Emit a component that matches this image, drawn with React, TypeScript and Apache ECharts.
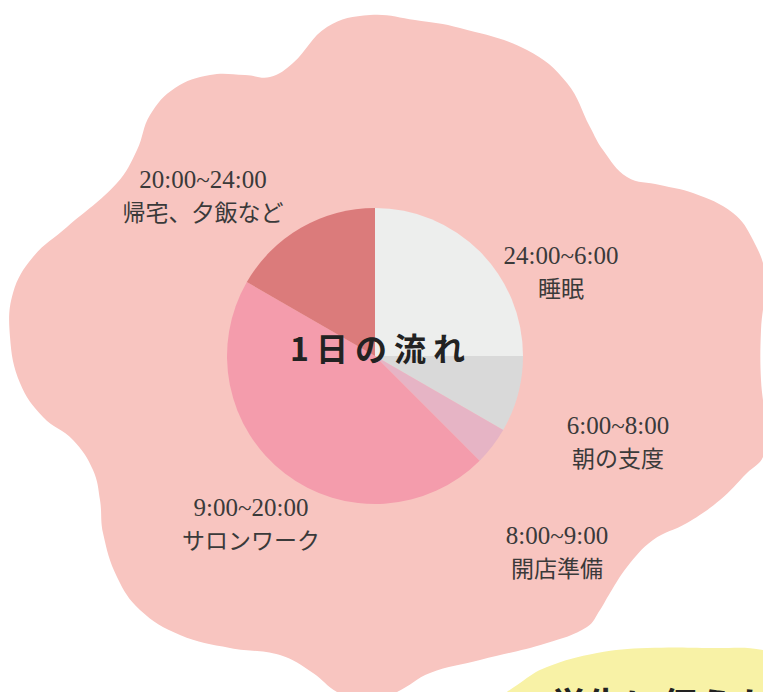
import React, { useEffect, useRef } from "react";
import * as echarts from "echarts";

// ---- data ----
const categories = ["睡眠", "朝の支度", "開店準備", "サロンワーク", "帰宅、夕飯など"];
const timeRanges = ["24:00~6:00", "6:00~8:00", "8:00~9:00", "9:00~20:00", "20:00~24:00"];
const hours = [6, 2, 1, 11, 4];
const centerTitle = "1日の流れ";
const footerTitle = "学生に伝えたい";

// ---- styles ----
const sliceColors = ["#EDEEED", "#D9D9D9", "#E6B4C5", "#F49CAC", "#DB7B7B"];
const labelCenters: [number, number][] = [
  [561, 271],
  [618, 441],
  [557, 551],
  [251, 523],
  [203, 195],
];

const blobPoints: number[][] = [
  [270, 77], [293, 63], [327, 27], [370, 15], [415, 20], [460, 28], [527, 50],
  [567, 83], [590, 127], [603, 150], [627, 177], [660, 185], [693, 193],
  [733, 213], [753, 240], [765, 275], [761, 330], [761, 380], [766, 430],
  [763, 457], [747, 473], [720, 500], [687, 523], [653, 540], [627, 567],
  [610, 593], [600, 610], [587, 627], [547, 643], [480, 660], [430, 673],
  [397, 692], [367, 702], [337, 692], [313, 673], [280, 655], [230, 648],
  [180, 635], [140, 610], [117, 577], [103, 533], [100, 500], [93, 470],
  [73, 440], [43, 417], [20, 383], [10, 337], [13, 293], [33, 257],
  [67, 227], [117, 183], [137, 150], [150, 115], [175, 88], [210, 75], [245, 75],
];

const yellowPoints: number[][] = [
  [495, 705], [520, 683], [547, 667], [597, 653], [647, 648], [713, 648],
  [763, 650], [795, 665], [795, 730], [495, 730],
];

export default function App() {
  const ref = useRef<HTMLDivElement>(null);
  useEffect(() => {
    if (!ref.current) return;
    const chart = echarts.init(ref.current, undefined, { renderer: "svg" });
    chart.setOption({
      animation: false,
      backgroundColor: "#ffffff",
      graphic: [
        {
          type: "polygon",
          z: 0,
          silent: true,
          shape: { points: blobPoints, smooth: 0.4 },
          style: { fill: "#F8C5C0" },
        },
        {
          type: "polygon",
          z: 0,
          silent: true,
          shape: { points: yellowPoints, smooth: 0.4 },
          style: { fill: "#F8F2A6" },
        },
        {
          type: "text",
          z: 10,
          silent: true,
          x: 550,
          y: 704,
          style: {
            text: footerTitle,
            fill: "#222222",
            font: 'bold 37px "Noto Sans CJK JP"',
            textAlign: "left",
            textVerticalAlign: "middle",
          },
        },
        {
          type: "text",
          z: 10,
          silent: true,
          x: 381,
          y: 347,
          style: {
            text: centerTitle,
            fill: "#222222",
            font: 'bold 32px "Noto Sans CJK JP"',
            textAlign: "center",
            textVerticalAlign: "middle",
          },
        },
      ],
      series: [
        {
          type: "pie",
          z: 2,
          silent: true,
          center: [375, 356],
          radius: 148,
          startAngle: 90,
          clockwise: true,
          color: sliceColors,
          itemStyle: { borderWidth: 0 },
          labelLine: { show: false },
          label: {
            show: true,
            position: "outside",
            formatter: (p: any) =>
              "{t|" + timeRanges[p.dataIndex] + "}\n{n|" + categories[p.dataIndex] + "}",
            color: "#3A3A3A",
            align: "center",
            rich: {
              t: {
                fontFamily: '"Liberation Serif", serif',
                fontSize: 25,
                lineHeight: 32,
                color: "#3A3A3A",
                align: "center",
              },
              n: {
                fontFamily: '"Noto Sans CJK JP", sans-serif',
                fontSize: 23,
                lineHeight: 32,
                color: "#3A3A3A",
                align: "center",
              },
            },
          },
          labelLayout: (params: any) => {
            const c = labelCenters[params.dataIndex];
            return { x: c[0], y: c[1], align: "center", verticalAlign: "middle" };
          },
          data: categories.map((name, i) => ({ name, value: hours[i] })),
        },
      ],
    });
    return () => chart.dispose();
  }, []);
  return (
    <div>
      <style>{`#chart-root text[style*="bold 32px"] { letter-spacing: 7px; }`}</style>
      <div
        id="chart-root"
        ref={ref}
        style={{ position: "fixed", left: 0, top: 0, width: 763, height: 692 }}
      />
    </div>
  );
}
